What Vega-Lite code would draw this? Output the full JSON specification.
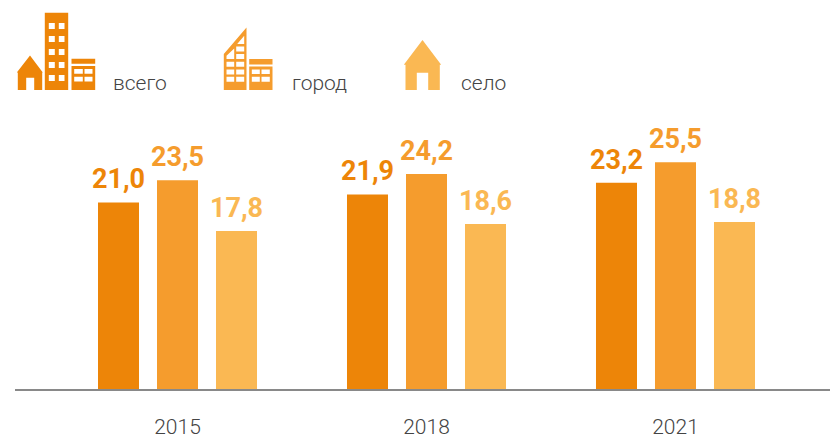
{
"$schema":"https://vega.github.io/schema/vega-lite/v6.json",
"width":815,"height":390,
"autosize":"none",
"padding":{"left":15,"top":0,"right":0,"bottom":46},
"background":"white",
"config":{"view":{"stroke":null},"locale":{"number":{"decimal":",","thousands":" ","grouping":[3],"currency":["",""]}}},
"data":{"values":[
{"year":"2015","series":"всего","value":21.0},
{"year":"2015","series":"город","value":23.5},
{"year":"2015","series":"село","value":17.8},
{"year":"2018","series":"всего","value":21.9},
{"year":"2018","series":"город","value":24.2},
{"year":"2018","series":"село","value":18.6},
{"year":"2021","series":"всего","value":23.2},
{"year":"2021","series":"город","value":25.5},
{"year":"2021","series":"село","value":18.8}
]},
"encoding":{
"x":{"field":"year","type":"nominal","title":null,"scale":{"range":[83,740],"paddingInner":0.3614,"paddingOuter":0},
"axis":{"domain":false,"ticks":false,"labelAngle":0,"labelFont":"Roboto","labelFontWeight":300,"labelFontSize":21,"labelColor":"#444444","labelPadding":26}},
"color":{"field":"series","type":"nominal","sort":["всего","город","село"],"scale":{"domain":["всего","город","село"],"range":["#ED8508","#F59C2D","#FAB853"]},
"legend":{"title":null,"orient":"none","legendX":76,"legendY":73,"direction":"horizontal","columns":3,"padding":0,"symbolSize":4,"symbolStrokeWidth":0,"symbolOpacity":1,"labelOffset":1,"labelFont":"Roboto","labelFontWeight":300,"labelFontSize":21,"labelColor":"#444444","columnPadding":55,"labelLimit":200}}
},
"layer":[
{"mark":{"type":"bar"},
"encoding":{
"xOffset":{"field":"series","type":"nominal","sort":["всего","город","село"],"scale":{"paddingInner":0.305,"paddingOuter":0}},
"y":{"field":"value","type":"quantitative","axis":null,"scale":{"domain":[0,43.67],"nice":false,"zero":true}}
}},
{"mark":{"type":"text","font":"Roboto","fontWeight":700,"fontSize":27,"dy":-14,"baseline":"alphabetic","align":"center"},
"encoding":{
"xOffset":{"field":"series","type":"nominal","sort":["всего","город","село"],"scale":{"paddingInner":0.305,"paddingOuter":0}},
"y":{"field":"value","type":"quantitative"},
"text":{"field":"value","type":"quantitative","format":".1f"}
}},
{"mark":{"type":"rule","color":"#8a8a8a","strokeWidth":1.6,"opacity":0.75},
"encoding":{"y":{"datum":0,"type":"quantitative"},"x":{},"color":{"value":"#8a8a8a"}}},
{"mark":{"type":"point","filled":true,"size":0},
"encoding":{
"shape":{"field":"series","type":"nominal","sort":["всего","город","село"],"legend":{"title":null,"orient":"none","legendX":76,"legendY":73,"direction":"horizontal","columns":3,"padding":0,"symbolSize":4,"symbolStrokeWidth":0,"symbolOpacity":1,"labelOffset":1,"labelFont":"Roboto","labelFontWeight":300,"labelFontSize":21,"labelColor":"#444444","columnPadding":55,"labelLimit":200},"scale":{"domain":["всего","город","село"],"range":[
"M -71.5 -28.3 L -58.7 -11.3 L -59.3 -11.3 L -59.3 6.3 L -67.3 6.3 L -67.3 -6 L -75.3 -6 L -75.3 6.3 L -83.7 6.3 L -83.7 -11.3 L -84.7 -11.3 Z M -56.7 -71 H -33.3 V 6.3 H -56.7 Z M -52.7 -60.7 V -54.7 H -46.7 V -60.7 Z M -42.7 -60.7 V -54.7 H -37 V -60.7 Z M -52.7 -47.7 V -41.7 H -46.7 V -47.7 Z M -42.7 -47.7 V -41.7 H -37 V -47.7 Z M -52.7 -34.7 V -28.7 H -46.7 V -34.7 Z M -42.7 -34.7 V -28.7 H -37 V -34.7 Z M -52.7 -21.7 V -15.7 H -46.7 V -21.7 Z M -42.7 -21.7 V -15.7 H -37 V -21.7 Z M -52.7 -8.7 V -2.7 H -46.7 V -8.7 Z M -42.7 -8.7 V -2.7 H -37 V -8.7 Z M -30 -25 H -6.3 V -20 H -30 Z M -30 -17.7 H -6.3 V 6.3 H -30 Z M -27.3 -14.7 V -10 H -18.7 V -14.7 Z M -17 -14.7 V -10 H -9 V -14.7 Z M -27.3 -7 V -2.3 H -18.7 V -7 Z M -17 -7 V -2.3 H -9 V -7 Z",
"M -57.7 0 L -57.7 0 Z M -34 -56.3 V 6.3 H -56.7 V -29.7 Z M -36.3 -48 L -43.3 -39.7 L -36.3 -39.7 Z M -46.3 -35.3 L -54 -28 L -54 -24.7 L -46.3 -24.7 Z M -44.3 -37.3 V -32.3 H -36.3 V -37.3 Z M -44.3 -29.7 V -24.7 H -36.3 V -29.7 Z M -54 -22 V -17 H -46.3 V -22 Z M -44.3 -22 V -17 H -36.3 V -22 Z M -54 -14.3 V -9.3 H -46.3 V -14.3 Z M -44.3 -14.3 V -9.3 H -36.3 V -14.3 Z M -54 -7 V -2 H -46.3 V -7 Z M -44.3 -7 V -2 H -36.3 V -7 Z M -31.3 -24.7 H -8 V -19.3 H -31.3 Z M -31.3 -17.3 H -8 V 6.3 H -31.3 Z M -28.7 -14.3 V -9.7 H -20.7 V -14.3 Z M -19 -14.3 V -9.7 H -10.7 V -14.3 Z M -28.7 -7 V -2 H -20.7 V -7 Z M -19 -7 V -2 H -10.7 V -7 Z",
"M -27 -43.7 L -8.3 -19 L -9.7 -19 L -9.7 6.3 L -21.3 6.3 L -21.3 -11 L -32.7 -11 L -32.7 6.3 L -44 6.3 L -44 -19 L -45.7 -19 Z"
]}}
}}
]
}
